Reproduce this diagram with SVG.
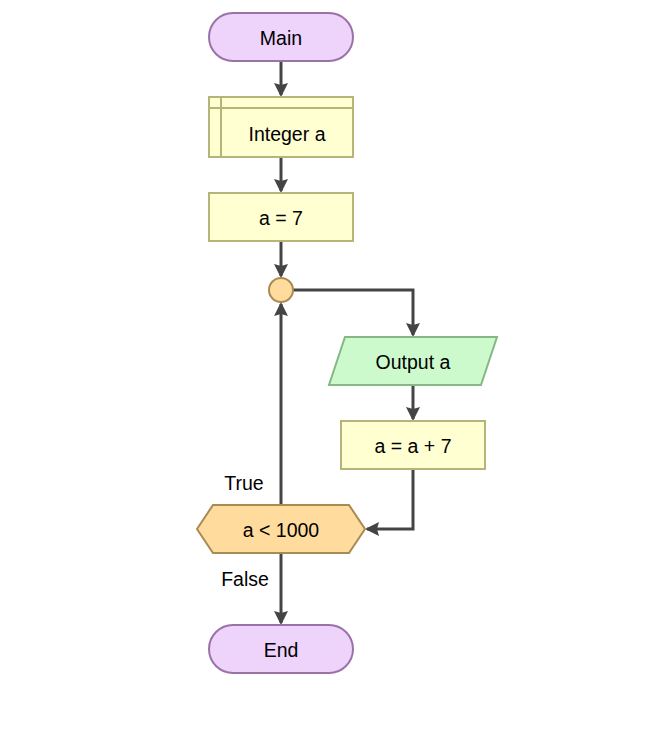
<svg xmlns="http://www.w3.org/2000/svg" width="661" height="741" viewBox="0 0 661 741">
  <style>
    .term { fill: #eed3fb; stroke: #9a72a8; stroke-width: 2; }
    .proc { fill: #ffffd2; stroke: #b5b57a; stroke-width: 2; }
    .io { fill: #ccfacc; stroke: #86b886; stroke-width: 2; }
    .dec { fill: #ffdc9e; stroke: #a88a52; stroke-width: 2; }
    .conn { fill: none; stroke: #444444; stroke-width: 3; }
    text { font-family: "Liberation Sans", Arial, sans-serif; font-size: 19.5px; fill: #000; text-anchor: middle; dominant-baseline: central; }
  </style>
  <defs>
    <marker id="arrow" markerWidth="14" markerHeight="14" refX="12" refY="7" orient="auto" markerUnits="userSpaceOnUse">
      <path d="M0,0 L14,7 L0,14 L2,7 Z" fill="#444444"/>
    </marker>
  </defs>
  <rect width="661" height="741" fill="#ffffff"/>

  <g id="connectors">
    <path class="conn" d="M281,61 V95" marker-end="url(#arrow)"/>
    <path class="conn" d="M281,157 V191" marker-end="url(#arrow)"/>
    <path class="conn" d="M281,241 V276" marker-end="url(#arrow)"/>
    <path class="conn" d="M293,290 H413 V335" marker-end="url(#arrow)"/>
    <path class="conn" d="M413,385 V419" marker-end="url(#arrow)"/>
    <path class="conn" d="M413,469 V529 H367" marker-end="url(#arrow)"/>
    <path class="conn" d="M281,505 V304" marker-end="url(#arrow)"/>
    <path class="conn" d="M281,553 V623" marker-end="url(#arrow)"/>
    <text x="244" y="483">True</text>
    <text x="245" y="579">False</text>
  </g>

  <g id="main">
    <rect class="term" x="209" y="13" width="144" height="48" rx="24"/>
    <text x="281" y="38">Main</text>
  </g>

  <g id="declare">
    <rect class="proc" x="209" y="97" width="144" height="60"/>
    <path d="M221,97 V157 M209,108 H353" stroke="#b5b57a" stroke-width="2" fill="none"/>
    <text x="287" y="134">Integer a</text>
  </g>

  <g id="assign">
    <rect class="proc" x="209" y="193" width="144" height="48"/>
    <text x="281" y="218">a = 7</text>
  </g>

  <g id="loop">
    <circle class="dec" cx="281" cy="290" r="12"/>
  </g>

  <g id="output">
    <polygon class="io" points="345,337 497,337 481,385 329,385"/>
    <text x="413" y="362">Output a</text>
  </g>

  <g id="increment">
    <rect class="proc" x="341" y="421" width="144" height="48"/>
    <text x="413" y="446">a = a + 7</text>
  </g>

  <g id="condition">
    <polygon class="dec" points="197,529 213,505 349,505 365,529 349,553 213,553"/>
    <text x="281" y="530">a &lt; 1000</text>
  </g>

  <g id="end">
    <rect class="term" x="209" y="625" width="144" height="48" rx="24"/>
    <text x="281" y="650">End</text>
  </g>
</svg>
